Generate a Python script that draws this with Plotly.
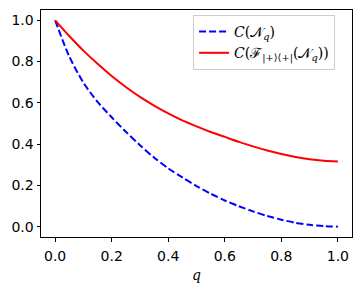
import plotly.graph_objects as go

q = [0.0, 0.05, 0.1, 0.15, 0.2, 0.25, 0.3, 0.35, 0.4, 0.45, 0.5,
     0.55, 0.6, 0.65, 0.7, 0.75, 0.8, 0.85, 0.9, 0.95, 1.0]
c_noisy = [1.0, 0.825, 0.698, 0.605, 0.53, 0.46, 0.395, 0.335, 0.283, 0.239, 0.197,
           0.16, 0.127, 0.099, 0.074, 0.052, 0.034, 0.019, 0.009, 0.003, 0.0]
c_filtered = [1.0, 0.924, 0.853, 0.789, 0.73, 0.677, 0.629, 0.587, 0.549, 0.515, 0.486,
              0.459, 0.435, 0.411, 0.389, 0.369, 0.352, 0.338, 0.327, 0.32, 0.316]
tick_vals = [0.0, 0.2, 0.4, 0.6, 0.8, 1.0]
tick_text = ["0.0", "0.2", "0.4", "0.6", "0.8", "1.0"]

font = dict(family="DejaVu Sans", size=14, color="black")
serif = dict(family="DejaVu Serif", size=14, color="black")

fig = go.Figure()
fig.add_trace(go.Scatter(
    x=q, y=c_noisy, mode="lines", line_shape="spline", line_smoothing=0.8,
    line=dict(color="#0000ff", width=2, dash="7px,3px"),
    name="<i>C</i>(𝒩<sub><i>q</i></sub>)",
))
fig.add_trace(go.Scatter(
    x=q, y=c_filtered, mode="lines", line_shape="spline", line_smoothing=0.8,
    line=dict(color="#ff0000", width=2),
    name="<i>C</i>(ℱ<sub>|+⟩⟨+|</sub>(𝒩<sub><i>q</i></sub>))",
))

axis_common = dict(
    showline=True, mirror=True, linecolor="black", linewidth=1,
    ticks="outside", ticklen=3.5, tickwidth=1, tickcolor="black",
    showgrid=False, zeroline=False, tickfont=font,
    tickvals=tick_vals, ticktext=tick_text,
)
fig.update_xaxes(range=[-0.05, 1.05], ticklabelstandoff=3,
                 title=dict(text="<i>q</i>", font=serif, standoff=6), **axis_common)
fig.update_yaxes(range=[-0.05, 1.05], **axis_common)

# page body adds an 8px offset, so the figure is sized to fit the window
fig.update_layout(
    width=354, height=281,
    margin=dict(l=33, r=10, t=2, b=52),
    paper_bgcolor="white", plot_bgcolor="white",
    font=font,
    legend=dict(
        x=0.489, y=0.978, xanchor="left", yanchor="top",
        bgcolor="rgba(255,255,255,0.8)", bordercolor="#cccccc", borderwidth=1,
        font=serif,
        tracegroupgap=2,
    ),
)
fig.write_html("out.html")
